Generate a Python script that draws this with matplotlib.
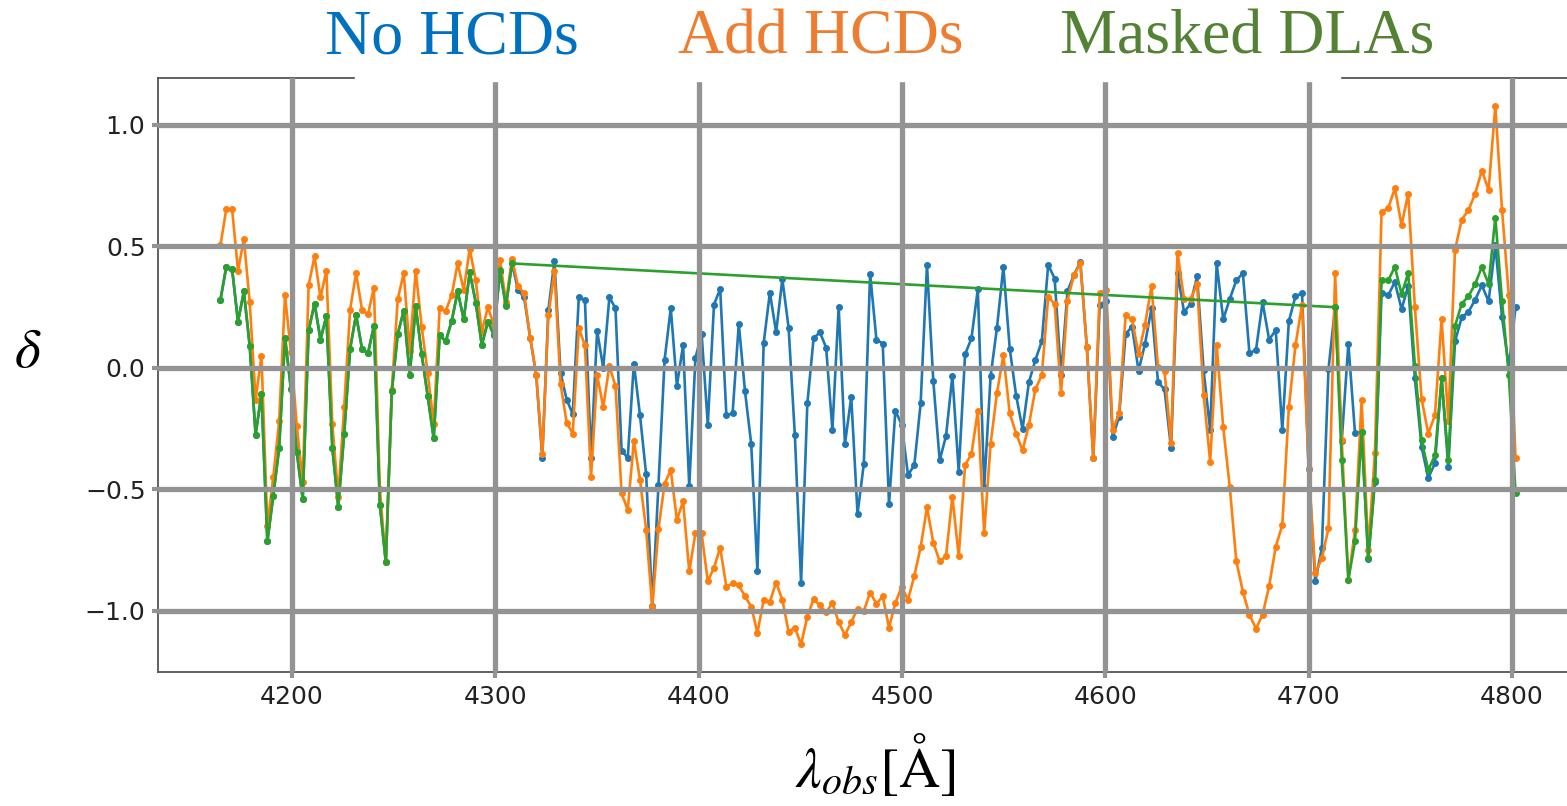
import numpy as np
import matplotlib
import matplotlib.pyplot as plt
from matplotlib.patches import Rectangle

plt.rcParams['font.family'] = 'DejaVu Sans'
plt.rcParams['mathtext.fontset'] = 'stix'

# spectral pixels: log10-uniform grid
loglam_start = np.log10(4164.8)
dloglam = 3e-4
n_pix = 207
wave = 10 ** (loglam_start + dloglam * np.arange(n_pix))

# delta, no HCDs
no_hcd = [
    0.28, 0.416, 0.406, 0.19, 0.315, 0.09, -0.275, -0.106, -0.714, -0.526,
    -0.33, 0.125, -0.088, -0.347, -0.54, 0.155, 0.265, 0.117, 0.213, -0.328,
    -0.571, -0.27, 0.079, 0.219, 0.079, 0.06, 0.173, -0.562, -0.80, -0.096,
    0.14, 0.236, -0.027, 0.254, 0.056, -0.115, -0.29, 0.135, 0.109, 0.193,
    0.315, 0.20, 0.394, 0.269, 0.094, 0.19, 0.137, 0.395, 0.258, 0.43,
    0.32, 0.29, 0.125, -0.03, -0.37, 0.24, 0.44, -0.02, -0.13, -0.19,
    0.29, 0.28, -0.37, 0.153, 0.0, 0.29, 0.246, -0.34, -0.37, 0.018,
    -0.195, -0.438, -0.98, -0.483, 0.033, 0.246, -0.073, 0.094, -0.486, 0.041,
    0.14, -0.233, 0.261, 0.325, -0.195, -0.187, 0.182, -0.096, -0.313, -0.837,
    0.102, 0.31, 0.147, 0.365, 0.166, -0.275, -0.883, -0.146, 0.122, 0.147,
    0.084, -0.255, 0.251, -0.313, -0.119, -0.60, -0.395, 0.388, 0.117, 0.10,
    -0.56, -0.176, -0.233, -0.44, -0.40, -0.146, 0.424, -0.055, -0.38, -0.28,
    -0.032, -0.427, 0.056, 0.122, 0.325, -0.49, -0.035, 0.166, 0.416, 0.079,
    -0.114, -0.252, -0.058, 0.033, 0.109, 0.424, 0.368, -0.03, 0.315, 0.383,
    0.436, 0.087, -0.37, 0.26, 0.277, -0.286, -0.20, 0.14, 0.17, -0.012,
    0.10, 0.246, -0.058, -0.088, -0.33, 0.39, 0.23, 0.264, 0.378, -0.01,
    -0.255, 0.43, 0.20, 0.284, 0.36, 0.39, 0.061, 0.074, 0.27, 0.117,
    0.155, -0.255, 0.193, 0.295, 0.307, -0.415, -0.878, -0.74, -0.005, 0.25,
    -0.30, 0.10, -0.267, -0.263, -0.787, -0.468, 0.31, 0.30, 0.353, 0.242,
    0.337, -0.043, -0.324, -0.453, -0.392, -0.043, -0.407, 0.109, 0.208, 0.231,
    0.28, 0.34, 0.274, 0.505, 0.208, 0.003, 0.25,
]

# delta, HCDs added
add_hcd = [
    0.505, 0.653, 0.653, 0.40, 0.53, 0.27, -0.13, 0.05, -0.65, -0.45,
    -0.22, 0.30, 0.064, -0.24, -0.47, 0.34, 0.46, 0.29, 0.40, -0.23,
    -0.53, -0.16, 0.24, 0.39, 0.24, 0.22, 0.33, -0.50, -0.80, -0.09,
    0.284, 0.39, 0.07, 0.40, 0.17, -0.02, -0.23, 0.246, 0.234, 0.30,
    0.43, 0.32, 0.49, 0.36, 0.147, 0.25, 0.178, 0.444, 0.272, 0.45,
    0.337, 0.307, 0.125, -0.027, -0.354, 0.216, 0.398, -0.065, -0.225, -0.27,
    0.163, 0.094, -0.45, -0.03, -0.16, 0.008, -0.074, -0.516, -0.584, -0.30,
    -0.46, -0.666, -0.985, -0.663, -0.476, -0.42, -0.625, -0.549, -0.837, -0.68,
    -0.68, -0.878, -0.822, -0.74, -0.90, -0.886, -0.894, -0.94, -0.982, -1.09,
    -0.954, -0.962, -0.883, -0.954, -1.085, -1.068, -1.137, -1.023, -0.951, -0.977,
    -1.005, -0.967, -1.046, -1.099, -1.046, -0.99, -1.0, -0.924, -0.97, -0.94,
    -1.068, -0.967, -0.90, -0.954, -0.856, -0.737, -0.574, -0.719, -0.795, -0.775,
    -0.529, -0.775, -0.40, -0.354, -0.176, -0.68, -0.313, -0.103, 0.053, -0.187,
    -0.27, -0.339, -0.233, -0.088, -0.03, 0.292, 0.264, -0.103, 0.277, 0.383,
    0.43, 0.087, -0.37, 0.307, 0.322, -0.255, -0.187, 0.216, 0.20, 0.056,
    0.178, 0.337, 0.003, -0.012, -0.31, 0.474, 0.284, 0.284, 0.345, -0.11,
    -0.385, 0.094, -0.243, -0.49, -0.795, -0.92, -1.015, -1.073, -1.015, -0.897,
    -0.736, -0.647, -0.161, 0.094, 0.261, -0.417, -0.845, -0.783, -0.66, 0.389,
    -0.296, -0.872, -0.666, -0.132, -0.75, -0.348, 0.641, 0.657, 0.74, 0.588,
    0.717, 0.249, -0.126, -0.27, -0.195, 0.20, -0.217, 0.486, 0.61, 0.649,
    0.717, 0.812, 0.733, 1.077, 0.649, 0.30, -0.37,
]

# delta, DLAs masked: pixels 0-49 and 179-206 kept, the rest masked
masked_left = [
    0.28, 0.416, 0.406, 0.19, 0.315, 0.09, -0.275, -0.106, -0.714, -0.526,
    -0.33, 0.125, -0.088, -0.347, -0.54, 0.155, 0.265, 0.117, 0.213, -0.328,
    -0.571, -0.27, 0.079, 0.219, 0.079, 0.06, 0.173, -0.562, -0.80, -0.096,
    0.14, 0.236, -0.027, 0.254, 0.056, -0.115, -0.29, 0.135, 0.109, 0.193,
    0.315, 0.20, 0.394, 0.269, 0.094, 0.19, 0.137, 0.403, 0.255, 0.43,
]
masked_right = [
    0.25, -0.377, -0.871, -0.714, -0.262, -0.784, -0.46, 0.36, 0.36, 0.416,
    0.304, 0.39, 0.01, -0.298, -0.42, -0.36, -0.043, -0.377, 0.173, 0.264,
    0.295, 0.345, 0.416, 0.345, 0.619, 0.274, -0.027, -0.514,
]
mask_start, mask_end = 50, 179

fig = plt.figure(figsize=(15.67, 8.06), dpi=100)
ax = fig.add_axes([158 / 1567, 1 - 672 / 806, 1 - 158 / 1567, (672 - 78) / 806])

ax.plot(wave, no_hcd, '-o', color='#1f77b4', lw=1.9, ms=4)
ax.plot(wave, add_hcd, '-o', color='#ff7f0e', lw=1.9, ms=4)
green_x = np.concatenate([wave[:mask_start], wave[mask_end:]])
green_y = np.concatenate([masked_left, masked_right])
ax.plot(green_x, green_y, '-o', color='#2ca02c', lw=1.9, ms=4)

ax.set_xlim(4134.1, 4827.0)
ax.set_ylim(-1.251, 1.193)
ax.set_xticks([4200, 4300, 4400, 4500, 4600, 4700, 4800])
ax.set_yticks([-1.0, -0.5, 0.0, 0.5, 1.0])

# grid drawn over the lines, like the original
ax.set_axisbelow(False)
ax.grid(True, color='#939393', lw=3.8)
ax.tick_params(direction='out', length=4, width=3, color='#939393',
               labelsize=18, labelcolor='#222222', pad=5)
for side in ['left', 'bottom', 'top']:
    ax.spines[side].set_color('#555555')
    ax.spines[side].set_linewidth(1.3)
ax.spines['right'].set_visible(False)

# white strip covering part of the top frame (legend box overlay)
fig.add_artist(Rectangle((355 / 1567, 1 - 81 / 806), (1340 - 355) / 1567, 6 / 806,
                         transform=fig.transFigure, color='white', zorder=10))

# coloured labels at the top
fig.text(325 / 1567, 1 - 54 / 806, 'No HCDs', color='#0070C0', fontsize=46,
         family='Liberation Serif', ha='left', va='baseline')
fig.text(678 / 1567, 1 - 54 / 806, 'Add HCDs', color='#ED7D31', fontsize=46,
         family='Liberation Serif', ha='left', va='baseline')
fig.text(1060 / 1567, 1 - 54 / 806, 'Masked DLAs', color='#548235', fontsize=46,
         family='Liberation Serif', ha='left', va='baseline')

fig.text(28 / 1567, 1 - 352 / 806, r'$\delta$', fontsize=40, ha='center', va='center')
fig.text(875 / 1567, 1 - 765 / 806, r'$\lambda_{obs}$[Å]', fontsize=41,
         family='STIXGeneral', ha='center', va='center')

fig.savefig('out.png', dpi=100)
